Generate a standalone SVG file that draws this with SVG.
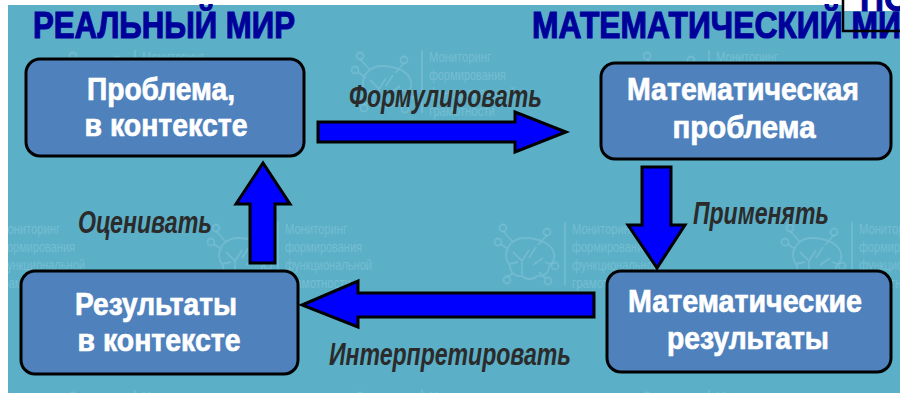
<svg xmlns="http://www.w3.org/2000/svg" width="900" height="393" viewBox="0 0 900 393">
<style>
.box{fill:#4f81bd;stroke:#000;stroke-width:3}
.arr{fill:#0000ff;stroke:#000;stroke-width:3;stroke-linejoin:miter}
text{font-family:"Liberation Sans",Arial,sans-serif}
.n{font-weight:700;font-size:32px;fill:#fff;text-anchor:middle;stroke:#fff;stroke-width:.7}
.l{font-weight:700;font-style:italic;font-size:32px;fill:#2b2b2b}
.t{font-weight:700;font-size:36px;fill:#00009a;stroke:#00009a;stroke-width:1.100}
.w{font-size:15px;fill:#8cc8d8;opacity:.55}
.wl{fill:none;stroke:#8cc8d8;stroke-width:1.800;opacity:.45}
</style>
<defs>
<g id="wm">
<path class="wl" d="M4 16c-11 0-19 8-19 17 0 5 2 8 4 11 0 7 6 11 12 10 4 4 11 4 15 0 7 1 12-3 12-10 4-3 6-8 5-12-1-9-13-16-29-16zM-8 30l9 9 7-11M1 39v14M15 25l-7 11M-12 42l9-2M22 36l-10 7M-18 9l10 11M26 13l-9 10M-20 22l8 6M30 42l-6-2M-14 55l6-4M24 56l-6-6"/>
<circle class="wl" cx="-18" cy="6" r="3.500"/><circle class="wl" cx="26" cy="10" r="3.500"/><circle class="wl" cx="-23" cy="20" r="3.500"/><circle class="wl" cx="34" cy="44" r="3.500"/><circle class="wl" cx="-14" cy="58" r="3.500"/><circle class="wl" cx="27" cy="59" r="3.500"/>
<path class="wl" d="M44 0V63"/>
<text class="w" x="51" y="12" textLength="62" lengthAdjust="spacingAndGlyphs">Мониторинг</text>
<text class="w" x="51" y="30" textLength="77" lengthAdjust="spacingAndGlyphs">формирования</text>
<text class="w" x="51" y="48" textLength="87" lengthAdjust="spacingAndGlyphs">функциональной</text>
<text class="w" x="51" y="66" textLength="66" lengthAdjust="spacingAndGlyphs">грамотности</text>
</g>
<clipPath id="bgc"><rect x="8" y="5" width="892" height="388"/></clipPath>
</defs>
<rect width="900" height="393" fill="#fff"/>
<rect x="8" y="5" width="892" height="388" fill="#5bb0c8"/>
<g id="watermarks" clip-path="url(#bgc)">
<use href="#wm" x="91" y="50"/><use href="#wm" x="378" y="50"/><use href="#wm" x="665" y="50"/>
<use href="#wm" x="-53" y="222"/><use href="#wm" x="234" y="222"/><use href="#wm" x="521" y="222"/><use href="#wm" x="808" y="222"/>
<use href="#wm" x="91" y="390"/><use href="#wm" x="378" y="390"/><use href="#wm" x="665" y="390"/>
</g>
<g id="heading-real"><text class="t" x="33" y="38" textLength="262" lengthAdjust="spacingAndGlyphs">РЕАЛЬНЫЙ МИР</text></g>
<g id="heading-math"><text class="t" x="532" y="38" textLength="390" lengthAdjust="spacingAndGlyphs">МАТЕМАТИЧЕСКИЙ МИР</text></g>
<g id="corner-box">
<rect x="843" y="0" width="57" height="11" fill="#fff"/>
<path d="M843 0V31H900" fill="none" stroke="#000" stroke-width="2.500"/>
<text x="860" y="11" font-weight="700" style="font-size:36px" fill="#00009a" stroke="#00009a" textLength="50" lengthAdjust="spacingAndGlyphs">ПО</text>
</g>
<g id="connectors">
<polygon class="arr" points="318,122 515,122 515,112 566,132 515,152 515,142 318,142"/>
<polygon class="arr" points="642,167 671,167 671,225 685,225 657,268 628,225 642,225"/>
<polygon class="arr" points="594,293 358,293 358,281 302,305 358,327 358,317 594,317"/>
<polygon class="arr" points="250,263 275,263 275,204 290,204 263,163 236,204 250,204"/>
</g>
<g id="node-problem"><rect class="box" x="26" y="59" width="278" height="97" rx="14"/>
<text class="n" x="161" y="100" textLength="148" lengthAdjust="spacingAndGlyphs">Проблема,</text>
<text class="n" x="166" y="136" textLength="163" lengthAdjust="spacingAndGlyphs">в контексте</text></g>
<g id="node-math-problem"><rect class="box" x="601" y="63" width="290" height="96" rx="14"/>
<text class="n" x="743" y="100" textLength="232" lengthAdjust="spacingAndGlyphs">Математическая</text>
<text class="n" x="744" y="138" textLength="143" lengthAdjust="spacingAndGlyphs">проблема</text></g>
<g id="node-results"><rect class="box" x="21" y="271" width="277" height="103" rx="14"/>
<text class="n" x="156" y="315" textLength="162" lengthAdjust="spacingAndGlyphs">Результаты</text>
<text class="n" x="159" y="351" textLength="163" lengthAdjust="spacingAndGlyphs">в контексте</text></g>
<g id="node-math-results"><rect class="box" x="607" y="271" width="284" height="101" rx="14"/>
<text class="n" x="745" y="312" textLength="234" lengthAdjust="spacingAndGlyphs">Математические</text>
<text class="n" x="748" y="349" textLength="162" lengthAdjust="spacingAndGlyphs">результаты</text></g>
<g id="labels">
<text class="l" x="349" y="107" textLength="193" lengthAdjust="spacingAndGlyphs">Формулировать</text>
<text class="l" x="693" y="224" textLength="136" lengthAdjust="spacingAndGlyphs">Применять</text>
<text class="l" x="78" y="233" textLength="134" lengthAdjust="spacingAndGlyphs">Оценивать</text>
<text class="l" x="329" y="365" textLength="242" lengthAdjust="spacingAndGlyphs">Интерпретировать</text>
</g>
</svg>
